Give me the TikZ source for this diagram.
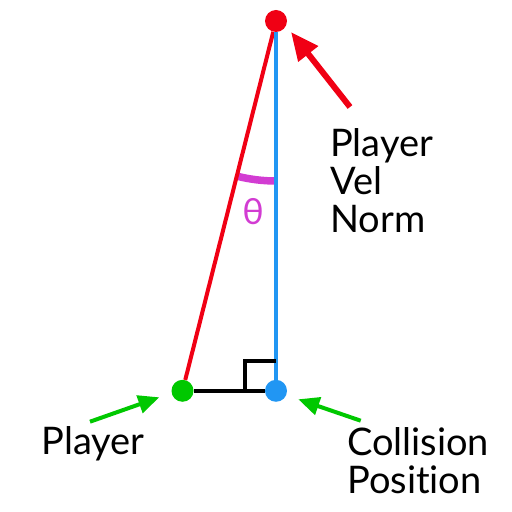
\documentclass[tikz,border=0pt]{standalone}
\usepackage{fontspec}
\setmainfont{Lato}[Ligatures=NoCommon]
\usetikzlibrary{arrows.meta}
\begin{document}
\begin{tikzpicture}[
        x=1pt, y=1pt, % One unit is one pixel of the picture
        line join=miter,
        ball/.style={circle, inner sep=0pt, minimum size=22pt}, % The three points
        lbl/.style={font=\fontsize{38}{38}\selectfont, align=left, inner sep=0pt}
        ]
        
        % 1. Define colors to match the image
        \definecolor{myred}{RGB}{240,0,20}
        \definecolor{myblue}{RGB}{33,150,243}
        \definecolor{mygreen}{RGB}{0,200,0}
        \definecolor{mymagenta}{RGB}{210,60,210}
        
        % 2. Frame of the picture
        \useasboundingbox (0,0) rectangle (512,512);
        
        % 3. The three points
        \node[ball, fill=myred] (vel) at (276,491) {};
        % Player
        \node[ball, fill=mygreen] (player) at (182.5,121.2) {};
        % Collision position
        \node[ball, fill=myblue] (coll) at (276,121.2) {};
        
        % Free ends of the arrows
        \coordinate (velTail) at (350,405);
        \coordinate (velTip) at (291,480);
        \coordinate (playerTail) at (90,90.3);
        \coordinate (playerTip) at (159.3,114.7);
        \coordinate (collTail) at (360.7,91.3);
        \coordinate (collTip) at (298.3,112.7);
        
        % 4. Draw the elements from back to front
        % Angle theta (magenta arc)
        \draw[mymagenta, line width=7.5pt] (vel.center) ++(255.8:160) arc[start angle=255.8, end angle=270, radius=160];
        \node[mymagenta, font=\fontsize{36}{36}\selectfont] (theta) at (253,300) {θ};
        
        % Player to velocity point (red)
        \draw[myred, line width=4pt] (vel) -- (player);
        
        % Velocity normal (blue)
        \draw[myblue, line width=3.3pt] (vel) -- (coll);
        
        % Ground line and right angle mark (black)
        \draw[line width=4pt] (player) -- (coll);
        \draw[line width=4pt] ([xshift=-30.7pt]coll.center) -- ++(0,29.5) -- ++(30.7,0);
        
        % 5. Arrows pointing at the points
        \draw[myred, line width=6pt, -{Triangle[length=28pt, width=24pt]}] (velTail) -- (velTip);
        \draw[mygreen, line width=4pt, -{Triangle[length=21pt, width=18pt]}] (playerTail) -- (playerTip);
        \draw[mygreen, line width=4pt, -{Triangle[length=21pt, width=18pt]}] (collTail) -- (collTip);
        
        % 6. Labels (base is the last line)
        \node[lbl, anchor=base west] (velTxt) at (330,279) {Player\\Vel\\Norm};
        \node[lbl, anchor=base west] (playerTxt) at (41.5,57) {Player};
        \node[lbl, anchor=base west] (collTxt) at (347,19) {Collision\\Position};
    \end{tikzpicture}
\end{document}
